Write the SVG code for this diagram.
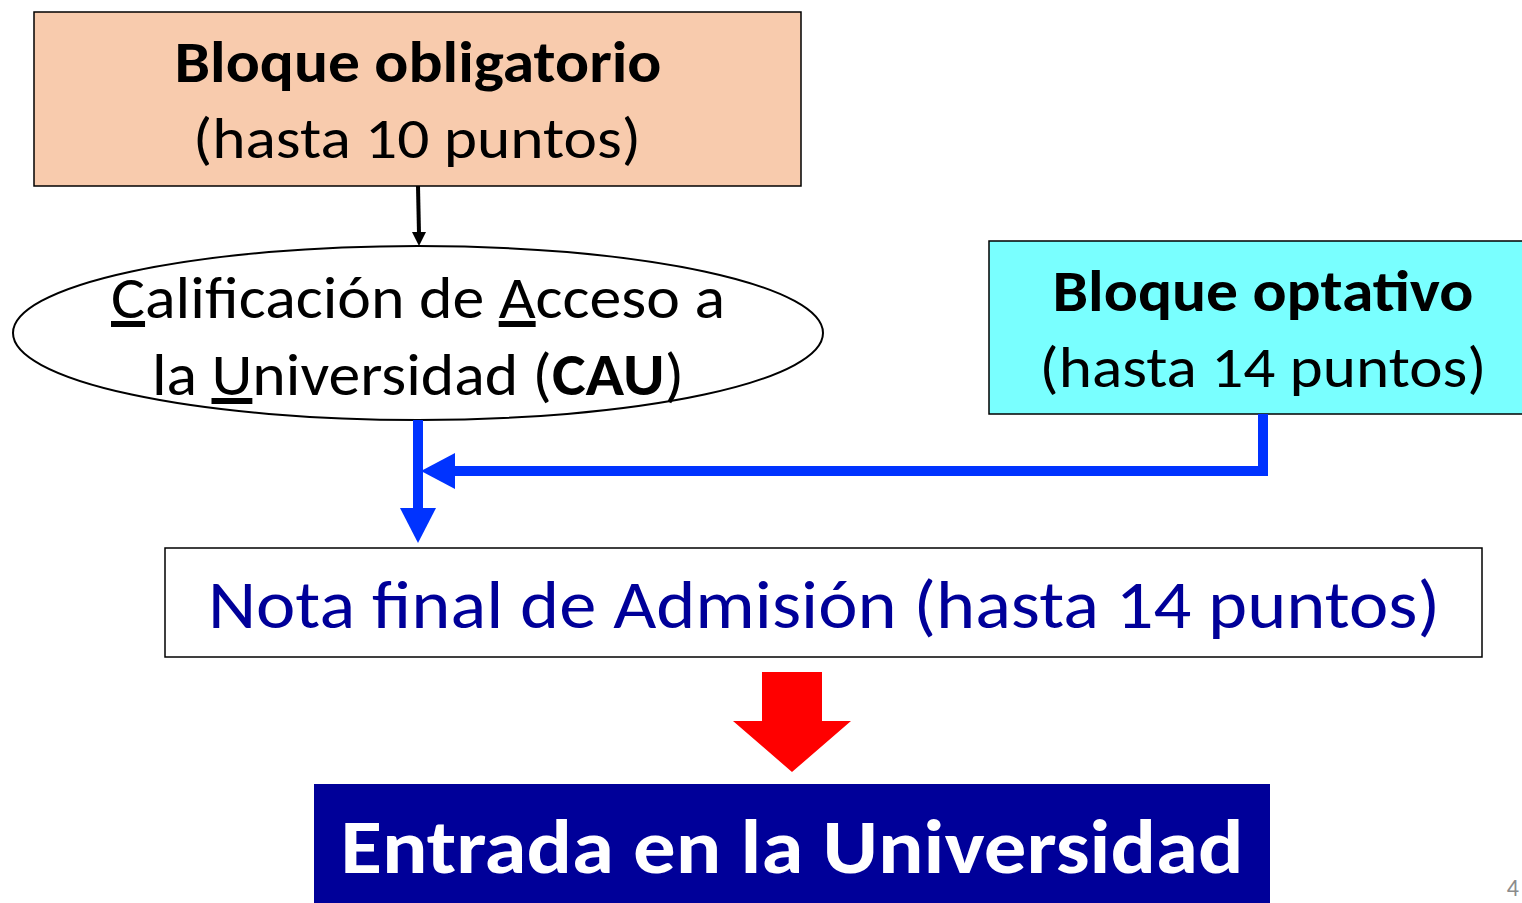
<svg xmlns="http://www.w3.org/2000/svg" width="1522" height="903" viewBox="0 0 1522 903">
<style>
text{font-family:Carlito,"Open Sans","Noto Sans",sans-serif;text-anchor:middle}
.box{stroke:#000;stroke-width:1.5}
.b{font-weight:bold}
.u{text-decoration:underline}
</style>
<rect width="1522" height="903" fill="#fff"/>
<g id="bloque-obligatorio">
<rect class="box" x="34" y="12" width="767" height="174" fill="#F8CBAD"/>
<text x="418" y="82" font-size="58" class="b" textLength="487" lengthAdjust="spacingAndGlyphs">Bloque obligatorio</text>
<text x="417" y="158" font-size="58" textLength="448" lengthAdjust="spacingAndGlyphs">(hasta 10 puntos)</text>
</g>
<g id="cau">
<ellipse cx="418" cy="333" rx="405" ry="87" fill="#fff" stroke="#000" stroke-width="2"/>
<text x="418" y="318" font-size="60" textLength="614" lengthAdjust="spacingAndGlyphs"><tspan class="u">C</tspan>alificación de <tspan class="u">A</tspan>cceso a</text>
<text x="418" y="395" font-size="60" textLength="532" lengthAdjust="spacingAndGlyphs">la <tspan class="u">U</tspan>niversidad (<tspan class="b">CAU</tspan>)</text>
</g>
<g id="bloque-optativo">
<rect class="box" x="989" y="241" width="540" height="173" fill="#79FFFF"/>
<text x="1263" y="311" font-size="58" class="b" textLength="421" lengthAdjust="spacingAndGlyphs">Bloque optativo</text>
<text x="1263" y="387" font-size="58" textLength="447" lengthAdjust="spacingAndGlyphs">(hasta 14 puntos)</text>
</g>
<g id="nota-final">
<rect class="box" x="165" y="548" width="1317" height="109" fill="#fff"/>
<text x="824" y="628" font-size="68" fill="#000099" textLength="1232" lengthAdjust="spacingAndGlyphs">Nota final de Admisión (hasta 14 puntos)</text>
</g>
<g id="entrada">
<rect x="314" y="784" width="956" height="125" fill="#000099"/>
<text x="792" y="873" font-size="77" class="b" fill="#fff" textLength="903" lengthAdjust="spacingAndGlyphs">Entrada en la Universidad</text>
</g>
<g id="connectors">
<path d="M418,186 L419,234" stroke="#000" stroke-width="4" fill="none"/>
<path d="M412,232 L426,232 L419,246 Z" fill="#000"/>
<path d="M418,420 V510" stroke="#0033FF" stroke-width="10" fill="none"/>
<path d="M400,508 L436,508 L418,543 Z" fill="#0033FF"/>
<path d="M1263,414 V471 H450" stroke="#0033FF" stroke-width="10" fill="none"/>
<path d="M455,453 L455,489 L421,471 Z" fill="#0033FF"/>
<path d="M762,672 H822 V721 H851 L792,772 L733,721 H762 Z" fill="#FF0000"/>
</g>
<text x="1519" y="896" font-size="24" fill="#8C8C8C" font-family="Open Sans,sans-serif" text-anchor="end" style="text-anchor:end">4</text>
</svg>
